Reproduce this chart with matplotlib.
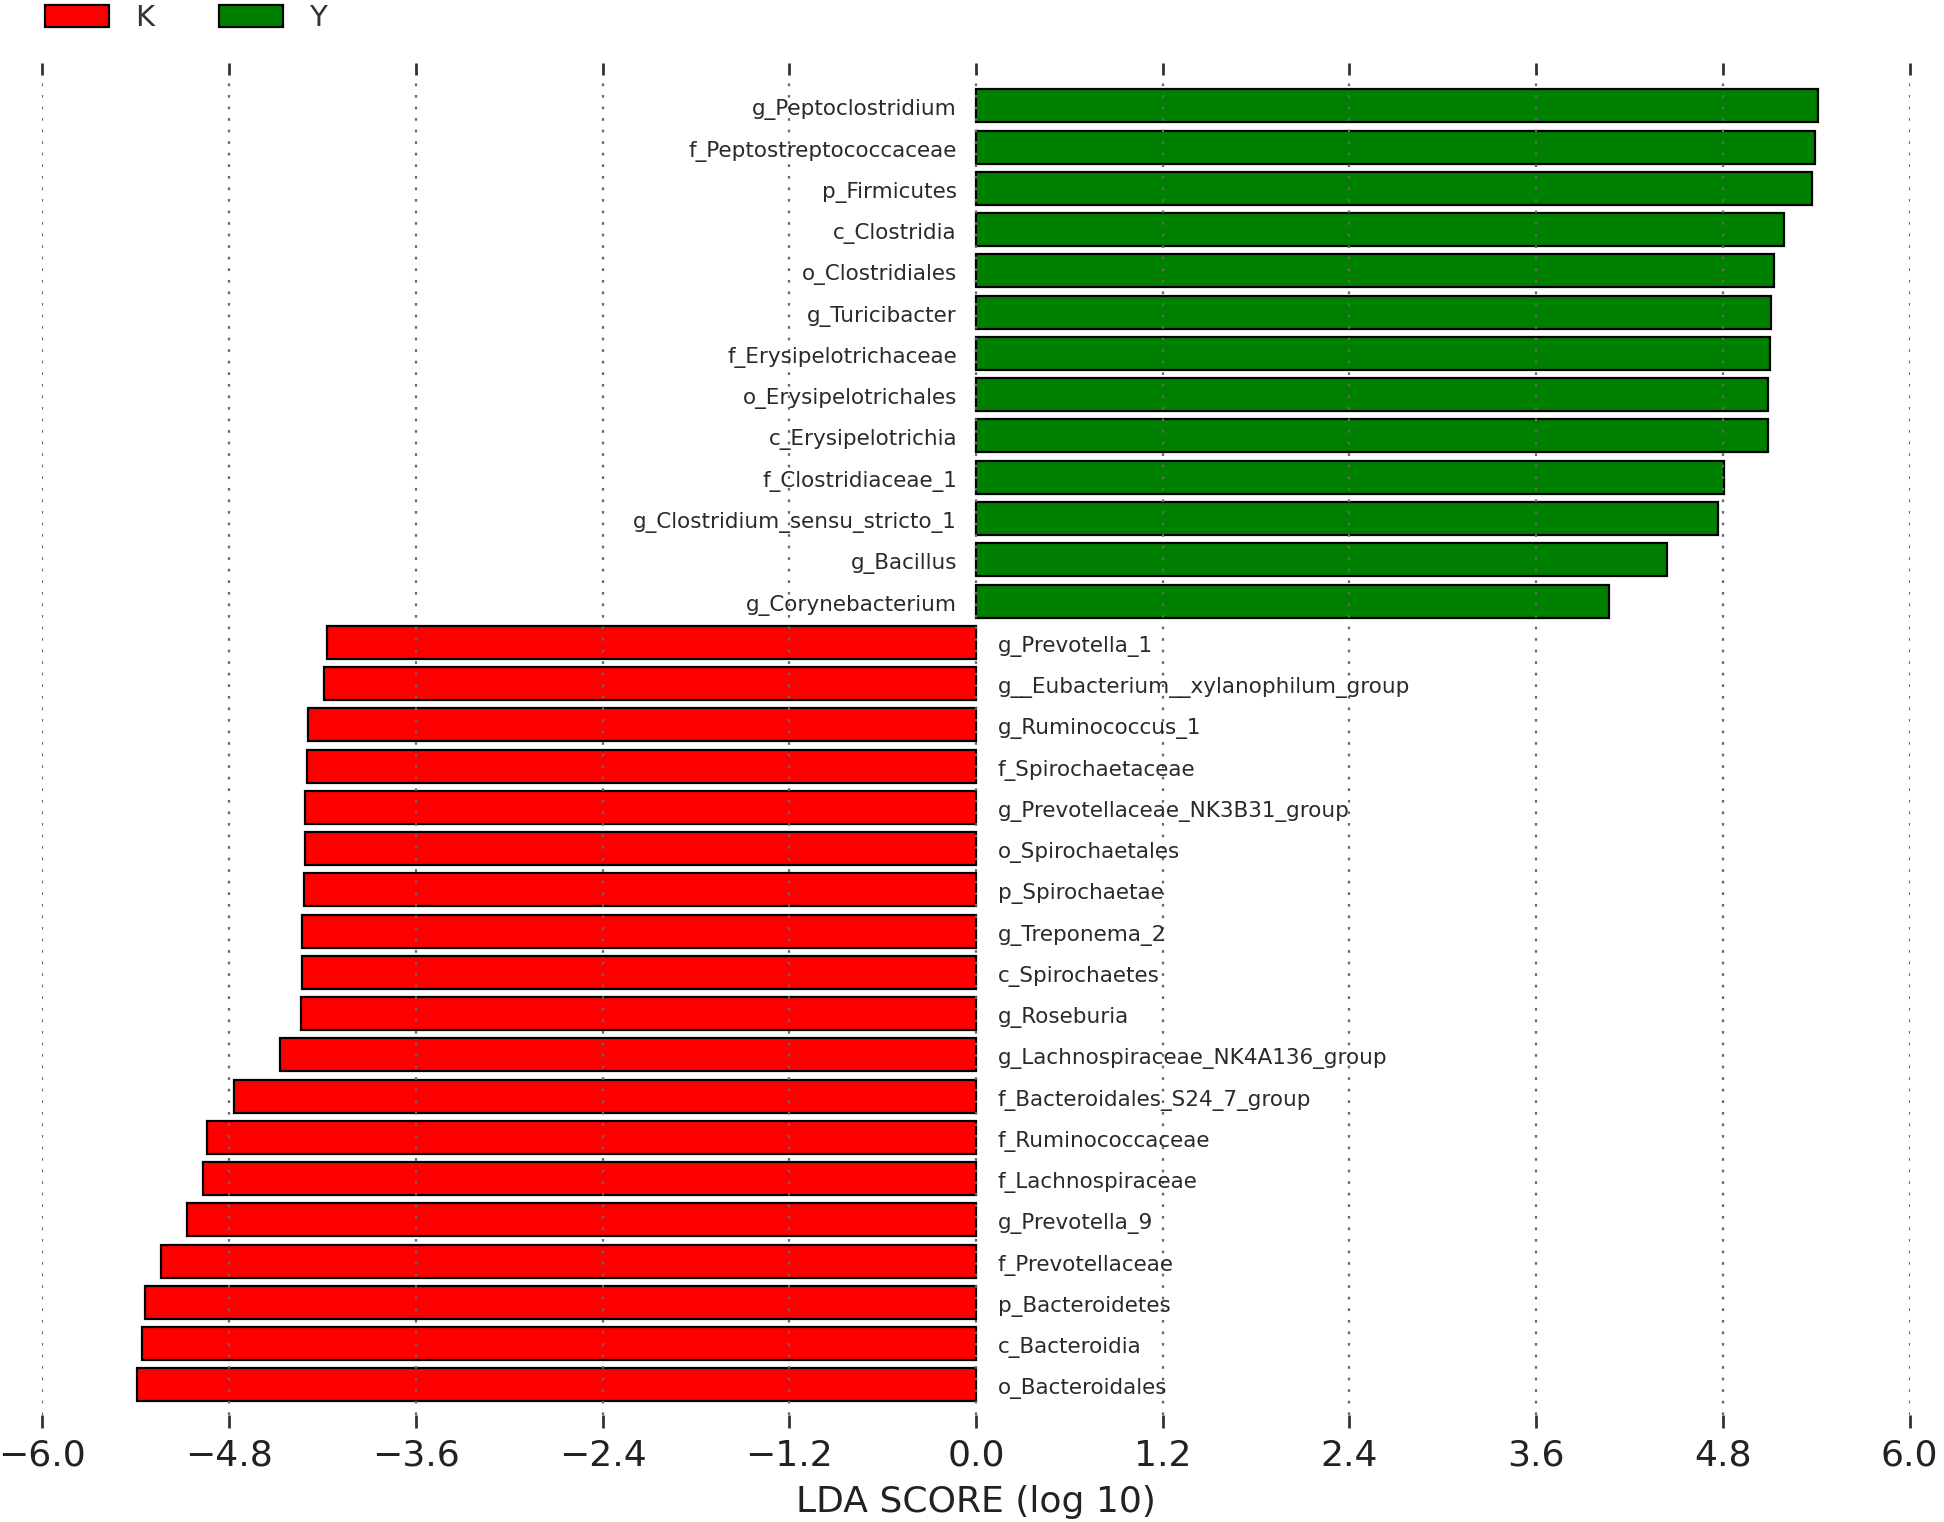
import matplotlib
matplotlib.use("Agg")
import matplotlib.pyplot as plt
from matplotlib.patches import Patch
import numpy as np

# ---- data (top to bottom as in the chart) ----
y_names = ["g_Peptoclostridium", "f_Peptostreptococcaceae", "p_Firmicutes", "c_Clostridia",
           "o_Clostridiales", "g_Turicibacter", "f_Erysipelotrichaceae", "o_Erysipelotrichales",
           "c_Erysipelotrichia", "f_Clostridiaceae_1", "g_Clostridium_sensu_stricto_1",
           "g_Bacillus", "g_Corynebacterium"]
y_scores = [5.41, 5.39, 5.37, 5.19, 5.13, 5.11, 5.10, 5.09, 5.09, 4.81, 4.77, 4.44, 4.07]

k_names = ["g_Prevotella_1", "g__Eubacterium__xylanophilum_group", "g_Ruminococcus_1",
           "f_Spirochaetaceae", "g_Prevotellaceae_NK3B31_group", "o_Spirochaetales",
           "p_Spirochaetae", "g_Treponema_2", "c_Spirochaetes", "g_Roseburia",
           "g_Lachnospiraceae_NK4A136_group", "f_Bacteroidales_S24_7_group",
           "f_Ruminococcaceae", "f_Lachnospiraceae", "g_Prevotella_9", "f_Prevotellaceae",
           "p_Bacteroidetes", "c_Bacteroidia", "o_Bacteroidales"]
k_scores = [-4.17, -4.19, -4.29, -4.30, -4.31, -4.31, -4.32, -4.33, -4.33, -4.34,
            -4.47, -4.77, -4.94, -4.97, -5.07, -5.24, -5.34, -5.36, -5.39]

groups = ["K", "Y"]
group_colors = {"K": "#FF0000", "Y": "#008000"}
xticks = [-6.0, -4.8, -3.6, -2.4, -1.2, 0.0, 1.2, 2.4, 3.6, 4.8, 6.0]
xlabel = "LDA SCORE (log 10)"

# ---- build ordered list (top -> bottom) ----
names = y_names + k_names
scores = y_scores + k_scores
cls = ["Y"] * len(y_names) + ["K"] * len(k_names)
n = len(names)
ypos = np.arange(n)[::-1]  # top item at highest y

W, H, DPI = 1944, 1522, 100
fig = plt.figure(figsize=(W / DPI, H / DPI), dpi=DPI)
plt.rcParams["font.family"] = "DejaVu Sans"

left = 42.4 / W
right = 1909.6 / W
top = 1 - 75 / H
bottom = 1 - 1415 / H
ax = fig.add_axes([left, bottom, right - left, top - bottom])

ax.barh(ypos, scores, height=0.8, color=[group_colors[c] for c in cls],
        edgecolor="black", linewidth=1.6, zorder=1)

for yy, nm, sc in zip(ypos, names, scores):
    if sc > 0:
        ax.annotate(nm, xy=(0, yy), xytext=(-19, -4), textcoords="offset pixels",
                    ha="right", va="center", fontsize=15.5, color="#2a2a2a", zorder=3)
    else:
        ax.annotate(nm, xy=(0, yy), xytext=(22, -4), textcoords="offset pixels",
                    ha="left", va="center", fontsize=15.5, color="#2a2a2a", zorder=3)

ax.set_xlim(-6.0, 6.0)
ax.set_ylim(-0.73, n - 1 + 0.75)
ax.set_xticks(xticks)
ax.set_xticklabels([f"{t:.1f}".replace("-", "\u2212") for t in xticks], fontsize=26,
                   color="#222222")
ax.set_yticks([])
ax.tick_params(axis="x", which="both", top=True, bottom=True, direction="out",
               length=9, width=2, color="#333333", pad=8)
for s in ax.spines.values():
    s.set_visible(False)
ax.grid(axis="x", color="#666666", linestyle=(0, (1.2, 4)), linewidth=1.6, zorder=2)
ax.set_axisbelow(False)
ax.set_xlabel(xlabel, fontsize=26, labelpad=9, color="#222222")

handles = [Patch(facecolor=group_colors[g], edgecolor="black", linewidth=1.6, label=g)
           for g in groups]
leg = fig.legend(handles=handles, loc="upper left", bbox_to_anchor=(45 / W, 1 - 4 / H),
                 ncol=2, frameon=False, fontsize=21, handlelength=2.2, handleheight=0.8,
                 handletextpad=0.9, columnspacing=2.2, borderaxespad=0, borderpad=0)
for t in leg.get_texts():
    t.set_color("#333333")

fig.savefig("out.png", dpi=DPI)
